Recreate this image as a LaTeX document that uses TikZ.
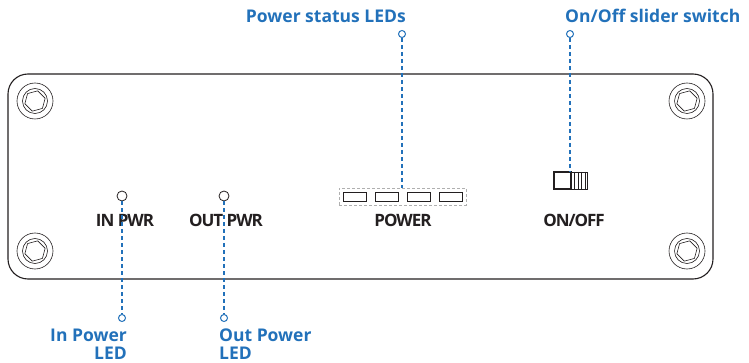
\documentclass[tikz,border=0pt]{standalone}
\usepackage{fontspec}
\setmainfont{Open Sans}
\newfontfamily\darkfont[LetterSpace=-6]{Open Sans}
\definecolor{lblue}{RGB}{34,113,186}
\definecolor{dark}{RGB}{35,31,32}
\definecolor{barcol}{RGB}{175,175,175}
\tikzset{
  casing/.style={draw=dark, line width=1.1pt, rounded corners=20pt},
  screwline/.style={draw=dark, line width=0.6pt},
  screw/.pic={
    \draw[screwline] (0,0) circle[radius=18pt];
    \draw[screwline] (0,0) circle[radius=12.5pt];
    \draw[screwline] (15:10.5pt) \foreach \a in {75,135,195,255,315} {-- (\a:10.5pt)} -- cycle;
  },
  led/.style={circle, draw=dark, line width=0.8pt, fill=white, minimum size=10pt, inner sep=0pt},
  enddot/.style={circle, draw=lblue, line width=1pt, fill=white, minimum size=7pt, inner sep=0pt},
  lead/.style={draw=lblue, line width=1.2pt, dash pattern=on 4pt off 3pt},
  blabel/.style={text=lblue, inner sep=0pt, font=\fontsize{17.5}{18}\selectfont\bfseries},
  dlabel/.style={text=dark, inner sep=0pt, font=\fontsize{17}{18}\selectfont\darkfont\bfseries},
  ledbar/.style={draw=barcol, line width=0.9pt, dash pattern=on 3pt off 2pt, minimum width=127pt, minimum height=17pt, inner sep=0pt},
  ledseg/.style={draw=dark, line width=0.9pt, minimum width=23pt, minimum height=9pt, inner sep=0pt},
}
\begin{document}
\begin{tikzpicture}[x=1pt,y=-1pt]
\useasboundingbox (0,0) rectangle (749,363);
% casing
\draw[casing] (8,74) rectangle (713,279);
\pic at (35,101) {screw};
\pic at (35,251) {screw};
\pic at (687,101) {screw};
\pic at (687,251) {screw};
% IN PWR / OUT PWR leds
\node[led] (inled) at (122,196) {};
\node[led] (outled) at (224,196) {};
\node[dlabel, anchor=base] (inpwr) at (125,227) {IN PWR};
\node[dlabel, anchor=base] (outpwr) at (226,227) {OUT PWR};
% power status bar
\node[ledbar] (bar) at (402.5,196.5) {};
\node[ledseg] (s1) at (354.5,196.5) {};
\node[ledseg] (s2) at (386.5,196.5) {};
\node[ledseg] (s3) at (418.5,196.5) {};
\node[ledseg] (s4) at (450.5,196.5) {};
\node[dlabel, anchor=base] (power) at (403,227) {POWER};
% switch
\node[draw=dark, line width=1.3pt, minimum width=17pt, minimum height=17pt, inner sep=0pt] (swl) at (562.5,180.5) {};
\node[draw=dark, line width=0.8pt, minimum width=16pt, minimum height=17pt, inner sep=0pt] (swr) at (579,180.5) {};
\foreach \xx in {574.5,578,581.5,585} {\draw[dark, line width=0.7pt] (\xx,172) -- (\xx,189);}
\node[dlabel, anchor=base] (onoff) at (574,227) {ON/OFF};
% callouts
\node[enddot] (inend) at (122,318) {};
\node[enddot] (outend) at (224,318) {};
\node[enddot] (barend) at (402,34) {};
\node[enddot] (swend) at (570,34) {};
\draw[lead] (inled) -- (inend);
\draw[lead] (outled) -- (outend);
\draw[lead] (barend) -- (barend |- bar.north);
\draw[lead] (swend) -- (swend |- swl.north);
\node[blabel, anchor=base east] (barlab) at (406,23) {Power status LEDs};
\node[blabel, anchor=base west] (swlab) at (565,23) {On/Off slider switch};
\node[blabel, anchor=north east, align=right] (inlab) at (127,329) {In Power\\LED};
\node[blabel, anchor=north west, align=left] (outlab) at (219,329) {Out Power\\LED};
\end{tikzpicture}
\end{document}
